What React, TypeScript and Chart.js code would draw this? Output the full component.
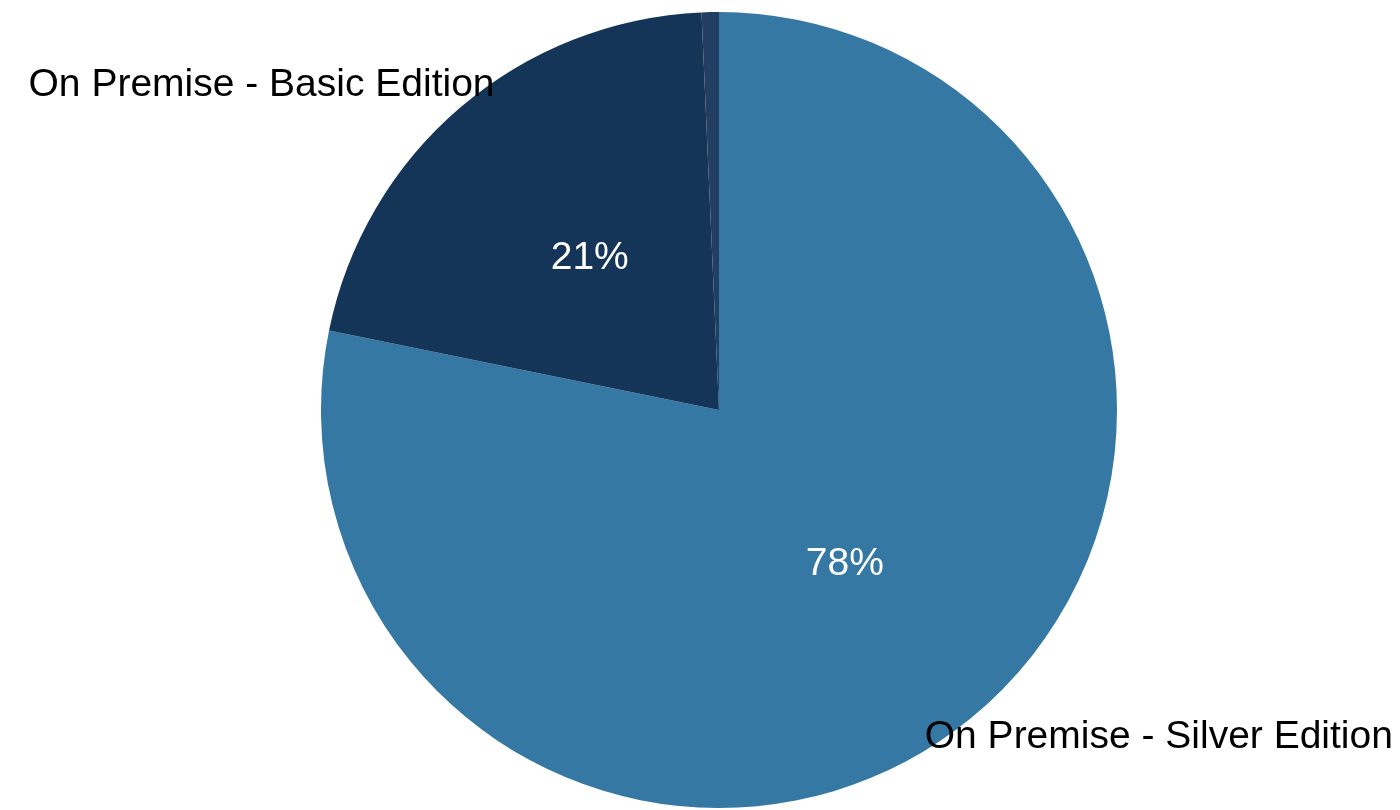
import React, { useEffect, useRef } from "react";
import { Chart, registerables } from "chart.js";

Chart.register(...registerables);

const categories = ["On Premise - Silver Edition", "On Premise - Basic Edition", "Other"];
const values = [78.2, 21.1, 0.7];
const percentLabels = ["78%", "21%", ""];
const outerLabels = ["On Premise - Silver Edition", "On Premise - Basic Edition", ""];
const colors = ["#3478a3", "#143458", "#223f63"];

const FONT = "39px 'Liberation Sans', Arial, sans-serif";

const labelPlugin = {
  id: "pieLabels",
  afterDatasetsDraw(chart: any) {
    const ctx = chart.ctx;
    const meta = chart.getDatasetMeta(0);
    ctx.save();
    ctx.font = FONT;
    meta.data.forEach((arc: any, i: number) => {
      const p = arc.getProps(["x", "y", "startAngle", "endAngle", "outerRadius"], true);
      const mid = (p.startAngle + p.endAngle) / 2;
      const cx = Math.cos(mid);
      const cy = Math.sin(mid);
      if (percentLabels[i]) {
        ctx.fillStyle = "#ffffff";
        ctx.textAlign = "center";
        ctx.textBaseline = "middle";
        const r = p.outerRadius * 0.5;
        ctx.fillText(percentLabels[i], p.x + cx * r, p.y + cy * r);
      }
      if (outerLabels[i]) {
        ctx.fillStyle = "#000000";
        ctx.textBaseline = "alphabetic";
        const ox = p.x + cx * p.outerRadius;
        const oy = p.y + cy * p.outerRadius;
        if (cx < 0) {
          ctx.textAlign = "right";
          ctx.fillText(outerLabels[i], ox + 34, oy - 11);
        } else {
          ctx.textAlign = "left";
          ctx.fillText(outerLabels[i], ox - 46, oy + 30);
        }
      }
    });
    ctx.restore();
  },
};

export default function App() {
  const ref = useRef<HTMLCanvasElement | null>(null);
  useEffect(() => {
    if (!ref.current) return;
    const chart = new Chart(ref.current, {
      type: "pie",
      data: {
        labels: categories,
        datasets: [
          {
            data: values,
            backgroundColor: colors,
            borderWidth: 0,
          },
        ],
      },
      options: {
        responsive: false,
        animation: false,
        layout: { padding: { top: 12, bottom: 2, left: 38, right: 0 } },
        plugins: {
          legend: { display: false },
          tooltip: { enabled: false },
        },
      },
      plugins: [labelPlugin],
    });
    return () => chart.destroy();
  }, []);
  return (
    <div style={{ position: "fixed", left: 0, top: 0, width: 1400, height: 810, background: "#fff" }}>
      <canvas ref={ref} width={1400} height={810} style={{ width: 1400, height: 810 }} />
    </div>
  );
}
